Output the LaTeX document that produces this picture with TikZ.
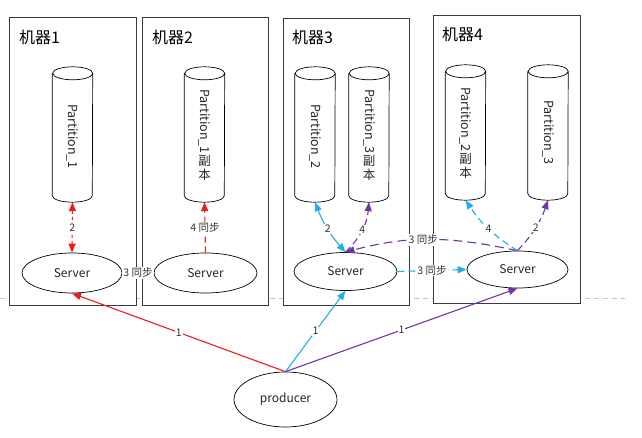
\documentclass[tikz,border=0pt]{standalone}
\usepackage{fontspec}
\setmainfont{Noto Sans CJK SC}
\usetikzlibrary{arrows.meta,positioning,calc,shapes.geometric}
\definecolor{ink}{HTML}{3A3A3A}
\definecolor{redln}{HTML}{EE1C1C}
\definecolor{cyanln}{HTML}{1DB1E8}
\definecolor{purpln}{HTML}{7335A3}

\begin{document}
\begin{tikzpicture}[x=1pt,y=-1pt,>={Triangle[length=9pt,width=7pt]},
  machine/.style={draw=ink,fill=white,line width=0.8pt,anchor=north west,inner sep=0pt},
  title/.style={anchor=west,inner sep=0pt,font=\fontsize{16}{18}\selectfont},
  disk/.style={draw=none,minimum width=40pt,minimum height=135pt,inner sep=0pt},
  dtext/.style={rotate=-90,inner sep=0pt,text=black!85,font=\fontsize{12.5}{14}\selectfont},
  ctext/.style={anchor=north,inner sep=1pt,align=center,text=black!85,font=\fontsize{12.5}{14}\selectfont},
  server/.style={ellipse,draw=black,line width=0.7pt,inner sep=0pt,text=black!85,font=\fontsize{12}{14}\selectfont},
  tag/.style={fill=white,inner sep=1pt,text=black!80,font=\fontsize{10.5}{12}\selectfont},
  link/.style={line width=1.1pt}]
  \useasboundingbox (0,0) rectangle (642,438);

  % divider
  \draw[gray!45,dash pattern=on 5pt off 4pt] (0,298) -- (625,298);

  % machines
  \node[machine,minimum width=127pt,minimum height=288pt] (m1) at (9,17) {};
  \node[machine,minimum width=126pt,minimum height=288pt] (m2) at (142,17) {};
  \node[machine,minimum width=126pt,minimum height=287pt] (m3) at (283,18) {};
  \node[machine,minimum width=147pt,minimum height=288pt] (m4) at (433,15) {};
  \node[title] at (19,37) {机器1};
  \node[title] at (152,37) {机器2};
  \node[title] at (292,37) {机器3};
  \node[title] at (442,34) {机器4};

  % partitions
  \node[disk] (p1) at (72.5,134.5) {};
  \node[disk] (p1r) at (204.5,134.5) {};
  \node[disk] (p2) at (315,134.5) {};
  \node[disk] (p3r) at (369,134.5) {};
  \node[disk] (p2r) at (465.5,132.5) {};
  \node[disk] (p3) at (548,132.5) {};
  \foreach \d in {p1,p1r,p2,p3r,p2r,p3}
    \draw[line width=0.7pt] ([yshift=-6.5pt]\d.north west) -- ([yshift=6.5pt]\d.south west)
      arc[start angle=180,end angle=360,x radius=20pt,y radius=6.5pt]
      -- ([yshift=-6.5pt]\d.north east)
      arc[start angle=0,end angle=360,x radius=20pt,y radius=6.5pt];

  \node[dtext] (t1) at ($(p1.center)+(0,2)$) {Partition\_1};
  \node[dtext] (t1r) at ($(p1r.center)+(0,-13)$) {Partition\_1};
  \node[ctext] at (t1r.east) {副\\本};
  \node[dtext] (t2) at ($(p2.center)+(0,2)$) {Partition\_2};
  \node[dtext] (t3r) at ($(p3r.center)+(0,-13)$) {Partition\_3};
  \node[ctext] at (t3r.east) {副\\本};
  \node[dtext] (t2r) at ($(p2r.center)+(0,-13)$) {Partition\_2};
  \node[ctext] at (t2r.east) {副\\本};
  \node[dtext] (t3) at (p3.center) {Partition\_3};

  % servers
  \node[server,minimum width=100pt,minimum height=40pt] (s1) at (72,273) {Server};
  \node[server,minimum width=103pt,minimum height=40pt] (s2) at (205.5,273) {Server};
  \node[server,minimum width=103pt,minimum height=38pt] (s3) at (345.5,271.5) {Server};
  \node[server,minimum width=101pt,minimum height=37pt] (s4) at (517.5,269.5) {Server};
  \node[server,minimum width=103pt,minimum height=55pt] (prod) at (285.5,399.5) {producer};

  % producer -> leaders
  \draw[link,redln,->] (prod.north) -- node[tag]{1} (s1.south);
  \draw[link,cyanln,->] (prod.north) -- node[tag]{1} (s3.south);
  \draw[link,purpln,->] (prod.north) -- node[tag]{1} (s4.south);

  % machine 1 / 2
  \draw[link,redln,dashed,<->] (p1.south) -- node[tag]{2} (s1.north);
  \draw[link,redln,dashed] (s1.east) -- node[tag]{3 同步} (s2.west);
  \draw[link,redln,dash pattern=on 6pt off 4pt,->] (s2.north) -- node[tag]{4 同步} (p1r.south);

  % machine 3 / 4
  \draw[link,cyanln,<->] (p2.south) to[bend right=10] node[tag]{2} (s3.north);
  \draw[link,purpln,dash pattern=on 7pt off 4pt,->] (s3.north) to[bend right=20] node[tag]{4} (p3r.south);
  \draw[link,cyanln,dash pattern=on 7pt off 4pt,->] (s3.east) -- node[tag]{3 同步} (s4.west);
  \draw[link,purpln,dash pattern=on 9pt off 5pt,->] (s4.north) to[out=168,in=15] node[tag,pos=0.55]{3 同步} (s3.north);
  \draw[link,cyanln,dash pattern=on 7pt off 4pt,->] (s4.north) to[bend left=12] node[tag]{4} (p2r.south);
  \draw[link,purpln,dash pattern=on 7pt off 4pt,->] (s4.north) to[bend right=12] node[tag]{2} (p3.south);
\end{tikzpicture}
\end{document}
